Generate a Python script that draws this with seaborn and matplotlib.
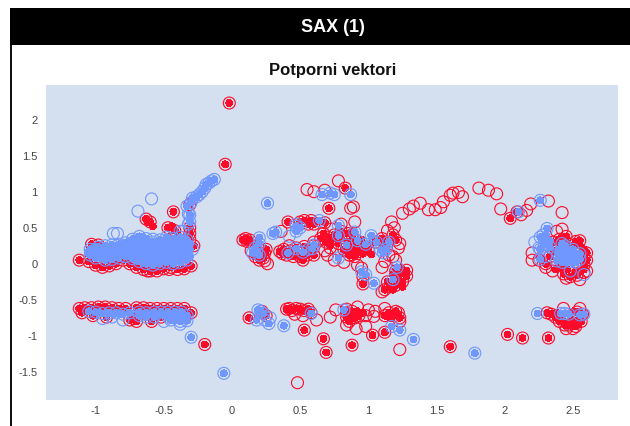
import matplotlib
matplotlib.use("Agg")
import matplotlib.pyplot as plt
import pandas as pd
import seaborn as sns
from matplotlib.patches import Rectangle

sns.set_theme(style="white")
plt.rcParams['font.family'] = ['Liberation Sans', 'DejaVu Sans']

TITLE = "SAX (1)"
SUBTITLE = "Potporni vektori"
x_ticks = [-1, -0.5, 0, 0.5, 1, 1.5, 2, 2.5]
x_labels = ["-1", "-0.5", "0", "0.5", "1", "1.5", "2", "2.5"]
y_ticks = [-1.5, -1, -0.5, 0, 0.5, 1, 1.5, 2]
y_labels = ["-1.5", "-1", "-0.5", "0", "0.5", "1", "1.5", "2"]

# red points with a dot
red_left = [(-1.12,.05),(-1.03,.27),(-.98,.26),(-1.05,.03),(-1.0,-.02),(-.95,-.05),(-.9,-.03),(-.85,.0),(-.8,.05),(-.75,.0),
            (-.7,-.05),(-.65,-.08),(-.6,-.1),(-.55,-.1),(-.5,-.07),(-.45,-.05),(-.4,-.08),(-.35,-.07),(-.3,-.03),(-.63,.62),(-.6,.58),
            (-.43,.72),(-.47,.5),(-.42,.46),(-.31,.5),(-.31,.42),(-.31,.34),(-.31,.82),(-.02,2.23),(-.05,1.38),(-.2,-1.12),(-.28,.25)]
red_band = [(-1.12,-.62),(-1.08,-.61),(-1.03,-.61),(-.98,-.6),(-.93,-.6),(-.88,-.61),(-.83,-.62),(-.78,-.62),(-.7,-.61),(-.65,-.61),
            (-.6,-.62),(-.55,-.62),(-.5,-.62),(-.45,-.62),(-.4,-.62),(-.35,-.62),(-.3,-.68),(-.72,-.76),(-.7,-.8),(-.75,-.78),(-.59,-.8),(-.52,-.74),
            (-1.1,-.68),(-1.02,-.72),(-.92,-.74)]
red_mid = [(.125,-.75),(.53,-.92),(.67,-1.04),(.69,-1.23),(.88,-1.13),(1.03,-.99),(1.12,-.95),(1.6,-1.15),(2.02,-.98),(2.13,-1.03),(2.32,-1.03),
           (.08,.33),(.11,.31),(.13,.33),(.10,.35),(.17,.1),(.2,.2),(.23,.08),(.24,.15),(.25,.2),(.2,.05),
           (.37,.14),(.40,.12),(.43,.18),(.38,.2),(.45,.1),(.5,.1),(.52,.05),(.55,.12),(.58,.18),(.6,.12),(.47,.22),(.53,.24),(.6,.25),(.35,.17),
           (.41,.58),(.5,.58),(.53,.6),(.56,.55),(.6,.55),(.58,.6),(.68,.57),(.71,.77),(.83,1.05),
           (.65,.35),(.7,.37),(.67,.42),(.72,.32),(.75,.4),(.69,.3),(.8,.45),(.85,.42),(.88,.4),(.78,.28),(.82,.2),(.85,.17),(.89,.19),(.93,.17),(.86,.12),(.9,.1),(.95,.22),
           (1.0,.2),(1.05,.3),(1.1,.35),(1.12,.28),(1.18,.4),(1.2,.33),(.96,-.28),
           (1.25,-.13),(1.28,-.17),(1.22,-.2),(1.2,-.1),(1.16,-.32),(1.14,-.25),(1.2,-.3),(1.25,-.25),(1.12,-.36),
           (.42,-.62),(.44,-.65),(.47,-.62),(.5,-.63),(.53,-.65),(.56,-.63),(.58,-.68),(.4,-.63),
           (.84,-.74),(.87,-.7),(.9,-.75),(.93,-.72),(.86,-.8),(.84,-.68),(.88,-.66),(1.12,-.72),(1.15,-.68),(1.19,-.72),(1.2,-.66),(1.23,-.75),(.22,-.66),(.25,-.72)]
red_right = [(2.04,.63),(2.09,.72),(2.52,.31),(2.58,.1),(2.6,.15),(2.58,-.02),(2.6,.05),(2.43,-.14),(2.48,-.18),(2.53,-.16),(2.46,-.08),(2.4,.34),(2.45,.38),(2.3,.0),(2.33,.1),
             (2.34,-.7),(2.31,-.68),(2.37,-.74),(2.4,-.8),(2.47,-.85),(2.52,-.87),(2.44,-.85),(2.53,-.67),(2.5,-.82),(2.42,-.75),(2.56,-.8),(2.57,-.7),(2.55,.32),(2.35,.3)]
# extra solid red, drawn as dots only
red_core = [(2.45,.3),(2.5,.25),(2.55,.25),(2.58,.2),(2.36,.18),(2.38,.3),(2.56,-.1),(2.52,-.1),(2.58,-.08),(2.42,-.07),(2.4,-.02),(2.37,-.08),
            (.85,.3),(.8,.36),(.72,.25),(.9,.25),(.96,.14),(1.02,.13),(.75,.35),(.88,.33),(.95,.33),(1.24,-.06),(1.28,-.1),(1.18,-.15),(1.25,-.32),(1.18,-.36),
            (.88,-.72),(.92,-.66),(.96,-.68),(.86,-.74),(1.16,-.76),(1.22,-.7),(2.38,-.68),(2.45,-.82),(2.5,-.78),(2.54,-.84),(2.5,-.66),
            (-.72,-.72),(-.62,.58),(-.58,.52),(-.44,.52),(-.4,.4)]
# red rings without a dot
red_open_x = [.48,-.46,-.62,.55,.6,.68,.78,.89,.87,.36,.26,.14,.24,.42,.6,.72,.76,.62,.84,.91,.98,1.0,1.04,1.12,1.23,1.1,1.23,1.22,.95,.92,1.28,1.19,1.25,1.3,1.38,1.33,1.44,1.49,1.53,1.55,1.6,1.62,1.66,1.69,1.81,1.88,1.94,1.97,2.16,2.12,2.19,2.32,2.42,1.15,1.2,1.22,1.17,1.14,1.23,.7,.75,.82,.68,.72,.8,.9,1.12,1.18,.73,.96,1.1,.46,.52,.84,1.05,.98,.92,2.2,2.25,2.38,2.42,2.2,2.3,2.35,2.45,2.55,2.6,2.58,2.45,2.5,2.43,2.55]
red_open_y = [-1.65,-.08,-.1,1.03,1.0,1.02,1.15,.79,.77,.45,.0,.18,.04,.25,.3,-.74,-.64,-.78,-.85,-.9,-.87,-.64,-.73,-.62,-.8,-.39,-1.19,-.68,-.06,-.02,-.09,.5,.7,.76,.84,.8,.75,.75,.78,.86,.95,.98,.99,.93,1.05,1.02,.97,.76,.74,.68,.83,.87,.71,.12,.05,.22,.58,.46,.28,.12,.05,.02,.18,.22,.55,.58,.03,.1,.48,-.18,-.05,-.7,-.72,-.63,-.66,-.72,-.6,.15,.05,.45,.48,.05,-.05,-.1,-.2,-.22,-.1,-.12,-.9,-.9,-.62,-.62]

# blue points with a dot
blue_left = [(-1.04,.12),(-1.04,.2),(-1.0,.08),(-.98,.17),(-.98,.23),(-.93,.05),(-.93,.12),(-.93,.2),(-.93,.25),(-.88,.06),(-.88,.13),(-.88,.2),(-.88,.26),
             (-.83,.08),(-.83,.15),(-.83,.22),(-.83,.27),(-.78,.1),(-.78,.17),(-.78,.24),(-.78,.29),(-.73,.07),(-.73,.14),(-.73,.21),(-.73,.28),(-.73,.34),
             (-.68,.03),(-.68,.1),(-.68,.17),(-.68,.24),(-.68,.31),(-.68,.38),(-.63,.0),(-.63,.07),(-.63,.14),(-.63,.21),(-.63,.28),(-.63,.35),
             (-.58,-.02),(-.58,.05),(-.58,.12),(-.58,.19),(-.58,.26),(-.58,.3),(-.53,.0),(-.53,.07),(-.53,.14),(-.53,.21),(-.53,.28),(-.53,.33),
             (-.48,.02),(-.48,.09),(-.48,.16),(-.48,.23),(-.48,.3),(-.48,.37),(-.43,.0),(-.43,.07),(-.43,.14),(-.43,.21),(-.43,.28),(-.43,.35),
             (-.38,.02),(-.38,.09),(-.38,.16),(-.38,.23),(-.38,.3),(-.38,.37),(-.33,.05),(-.33,.12),(-.33,.19),(-.33,.26),(-.33,.33),(-.31,.58),(-.31,.68),
             (-.33,.8),(-.30,.85),(-.29,.91),(-.26,.93),(-.24,.96),(-.22,1.0),(-.2,1.05),(-.19,1.1),(-.17,1.12),(-.15,1.15),(-.13,1.17),
             (-.3,-1.02),(-.06,-1.52)]
blue_band = [(-1.05,-.66),(-1.0,-.67),(-.95,-.69),(-.9,-.68),(-.85,-.68),(-.8,-.7),(-.75,-.68),(-.68,-.67),(-.68,-.72),(-.63,-.68),(-.63,-.74),
             (-.57,-.67),(-.57,-.74),(-.52,-.67),(-.47,-.67),(-.47,-.74),(-.42,-.67),(-.42,-.74),(-.37,-.67),(-.37,-.74),(-.33,-.72),(-.33,-.79),(-.38,-.8),(-.45,-.78)]
blue_mid = [(.26,.84),(.15,.15),(.18,.18),(.2,.12),(.17,.22),(.2,.28),(.2,.36),(.3,.42),(.32,.44),(.41,.15),(.47,.21),(.52,.16),(.59,.21),(.6,.26),
            (.47,.45),(.5,.5),(.47,.52),(.64,.6),(.66,.96),(.75,.96),(.87,.96),(.72,.98),
            (.78,.53),(.78,.39),(.9,.44),(.84,.26),(.92,.32),(.98,.27),(1.02,.39),(1.06,.3),(1.15,.3),(1.09,.19),(1.13,.2),(.78,.08),(1.11,.15),
            (1.21,-.05),(1.18,-.22),(.95,-.11),(.98,-.15),(1.04,-.27),(1.78,-1.24),
            (.19,-.64),(.23,-.69),(.21,-.66),(.18,-.78),(.27,-.83),(.38,-.86),(.58,-.69),(.82,-.64),(1.17,-.87),(1.23,-.92),(1.33,-1.05)]
blue_right = [(2.1,.72),(2.26,.88),(2.31,.49),(2.26,.37),(2.29,.27),(2.26,.2),(2.33,.23),(2.26,.06),(2.42,.28),(2.44,.25),(2.39,.14),(2.43,.12),(2.38,.04),(2.42,.02),
              (2.48,.16),(2.52,.1),(2.52,.02),(2.48,.03),(2.46,.14),(2.55,.06),(2.5,.2),(2.55,.14),(2.24,-.69),(2.41,-.69),(2.44,-.69),(2.47,-.7),(2.55,-.71),(2.58,-.7)]
# extra solid blue, drawn as dots only
blue_core = [(-1.06,.16),(-1.02,.16),(-1.01,.24),(-.96,.09),(-.96,.14),(-.955,.21),(-.905,.09),(-.905,.16),(-.905,.23),(-.855,.11),(-.855,.18),(-.855,.25),
             (-.805,.13),(-.805,.2),(-.805,.27),(-.755,.1),(-.755,.17),(-.755,.25),(-.755,.31),(-.705,.05),(-.705,.13),(-.705,.2),(-.705,.28),(-.705,.35),
             (-.655,.02),(-.655,.09),(-.655,.16),(-.655,.23),(-.655,.3),(-.655,.37),(-.605,.02),(-.605,.09),(-.605,.16),(-.605,.23),(-.605,.3),
             (-.555,.02),(-.555,.09),(-.555,.16),(-.555,.23),(-.555,.3),(-.505,.04),(-.505,.11),(-.505,.18),(-.505,.25),(-.505,.32),
             (-.455,.03),(-.455,.1),(-.455,.17),(-.455,.24),(-.455,.31),(-.405,.04),(-.405,.11),(-.405,.18),(-.405,.25),(-.405,.32),
             (-.355,.07),(-.355,.14),(-.355,.21),(-.355,.28),(-.355,.35),(-.31,.1),(-.31,.2),(-.31,.28),
             (-.98,-.68),(-.92,-.68),(-.87,-.7),(-.82,-.7),(-.66,-.7),(-.6,-.7),(-.54,-.7),(-.5,-.71),(-.44,-.71),(-.4,-.71),(-.35,-.71),(-.36,-.77),(-.42,-.78),
             (2.41,.08),(2.45,.06),(2.45,.2),(2.4,.2),(2.5,.06),(2.5,.12),(2.54,.1),(2.44,.02),(2.48,.1),(2.28,.35),(2.3,.4),(2.33,.32)]
# blue rings without a dot
blue_open_x = [-.59,-.69,-.87,-.84,-.32,-.32,-.36,-.38,-.58,-.49,-.29,-.88,-.8,-.95,-.5,-.38,.24,.28,.47,.42,2.25,2.3,2.22,2.28,2.48,2.58,.56]
blue_open_y = [.9,.73,.42,.42,.69,.55,.45,.45,.34,.28,.2,-.74,-.78,-.76,-.8,-.84,-.78,-.75,.55,.38,.22,.1,.3,.4,-.1,-.15,.2]

def frame(points):
    return pd.DataFrame(points, columns=["x", "y"])

red_fill = frame(red_left + red_band + red_mid + red_right)
blue_fill = frame(blue_left + blue_band + blue_mid + blue_right)
red_solid = frame(red_core)
blue_solid = frame(blue_core)
red_open = pd.DataFrame({"x": red_open_x, "y": red_open_y})
blue_open = pd.DataFrame({"x": blue_open_x, "y": blue_open_y})

RED = "#FF0A28"
BLUE = "#6F97FF"
RING = 74
DOT = 24
fig = plt.figure(figsize=(6.3, 4.26), dpi=100)
W, H = 630, 426
fig.add_artist(Rectangle((10/W, 1-45/H), 620/W, 37/H, transform=fig.transFigure, color="black", lw=0))
fig.add_artist(Rectangle((10/W, 0), 2/W, 1-45/H, transform=fig.transFigure, color="#111111", lw=0))
fig.text(333/W, 1-27/H, TITLE, color="white", fontsize=13, fontweight="bold", ha="center", va="center")
fig.text(333/W, 1-70/H, SUBTITLE, color="#111111", fontsize=12, fontweight="bold", ha="center", va="center")

ax = fig.add_axes([46/W, 1-400/H, 572/W, 315/H])
ax.set_facecolor("#D4DFEF")

def rings(data, color):
    sns.scatterplot(data=data, x="x", y="y", ax=ax, s=RING, color=color, legend=False)
    layer = ax.collections[-1]
    layer.set_facecolor("none")
    layer.set_edgecolor(color)
    layer.set_linewidth(0.8)

def dots(data, color):
    sns.scatterplot(data=data, x="x", y="y", ax=ax, s=DOT, color=color, legend=False)
    layer = ax.collections[-1]
    layer.set_facecolor(color)
    layer.set_edgecolor("none")
    layer.set_linewidth(0)
    layer.set_antialiased(False)

rings(red_open, RED)
rings(red_fill, RED)
dots(red_fill, RED)
dots(red_solid, RED)
rings(blue_open, BLUE)
rings(blue_fill, BLUE)
dots(blue_fill, BLUE)
dots(blue_solid, BLUE)

ax.set_xlim(-1.364, 2.83)
ax.set_ylim(-1.89, 2.48)
ax.set_xticks(x_ticks, x_labels)
ax.set_yticks(y_ticks, y_labels)
ax.set_xlabel("")
ax.set_ylabel("")
sns.despine(ax=ax, left=True, bottom=True, right=True, top=True)
ax.tick_params(axis="x", direction="in", length=5, width=1, color="white", labelcolor="#444444", labelsize=8, pad=4)
ax.tick_params(axis="y", direction="in", length=5, width=1, color="white", labelcolor="#444444", labelsize=8, pad=6)
fig.savefig("out.png", dpi=100)
